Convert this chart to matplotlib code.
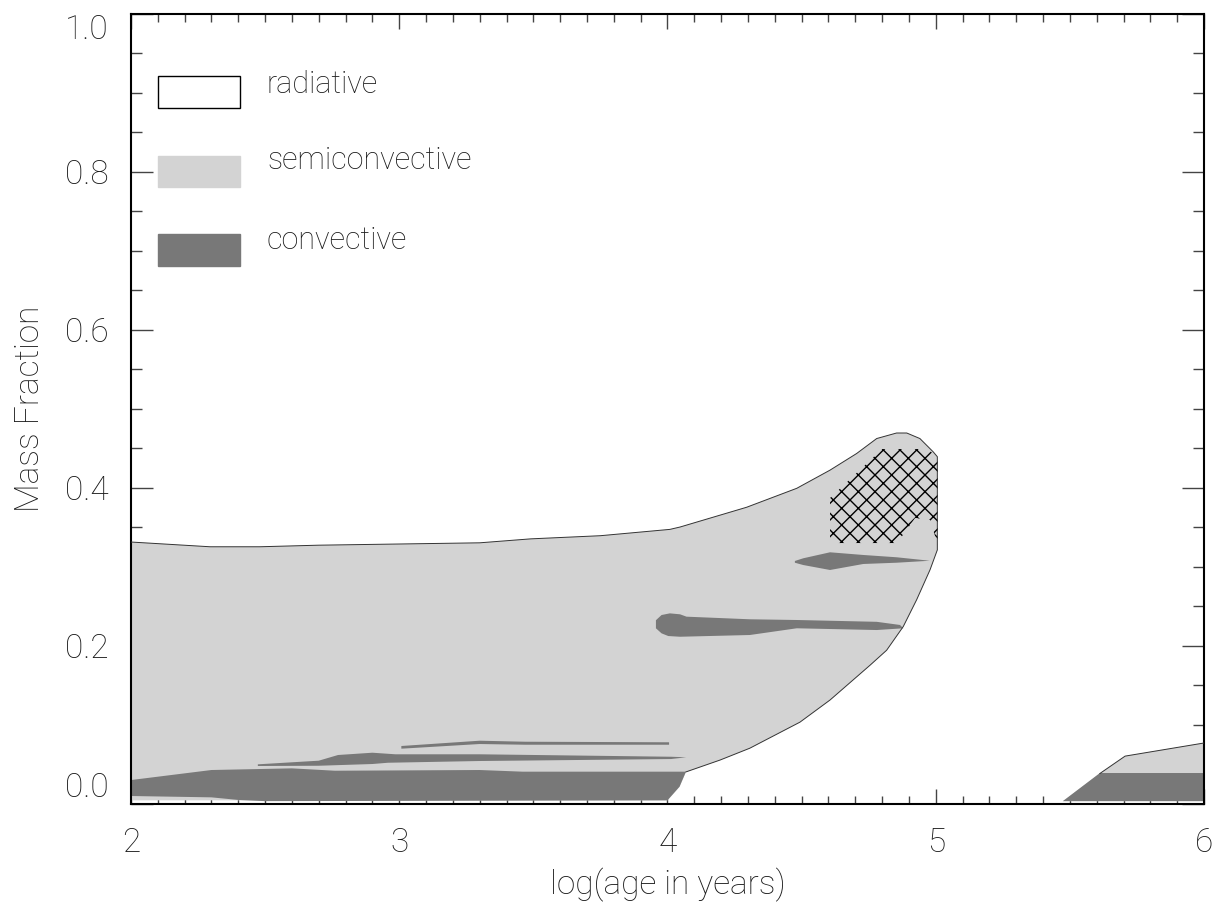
import numpy as np
import matplotlib.pyplot as plt
from matplotlib.patches import Rectangle, Polygon
from matplotlib.ticker import MultipleLocator

plt.rcParams['font.family'] = ['Roboto', 'DejaVu Sans']
plt.rcParams['font.weight'] = 'light'
plt.rcParams['axes.labelweight'] = 'light'
plt.rcParams['hatch.linewidth'] = 1.0

# semiconvective envelope (early phase)
semi_x = [2.0, 2.295, 2.48, 2.70, 3.30, 3.49, 3.75, 4.009, 4.047, 4.295, 4.482, 4.606,
          4.705, 4.78, 4.854, 4.892, 4.941, 4.991, 5.006, 5.006, 4.979, 4.929, 4.879,
          4.817, 4.755, 4.606, 4.494, 4.307, 4.196, 4.069, 4.045, 4.0, 2.0]
semi_y = [0.331, 0.325, 0.325, 0.327, 0.330, 0.335, 0.339, 0.347, 0.350, 0.375, 0.399, 0.422,
          0.443, 0.462, 0.469, 0.469, 0.462, 0.445, 0.439, 0.321, 0.296, 0.258, 0.224,
          0.194, 0.175, 0.131, 0.103, 0.070, 0.055, 0.040, 0.021, 0.004, 0.004]

# semiconvective (late phase)
semi2_x = [5.474, 5.612, 5.706, 6.0, 6.0]
semi2_y = [0.003, 0.038, 0.060, 0.0766, 0.003]

# convective zones
conv_x = [
    [2.0, 2.30, 2.60, 2.76, 3.30, 3.46, 4.069, 4.045, 4.0, 2.5, 2.4, 2.3, 2.0],
    [2.473, 2.70, 2.772, 2.90, 2.986, 3.30, 4.013, 4.07, 4.013, 3.30, 2.958, 2.90, 2.70, 2.473],
    [3.008, 3.30, 3.47, 4.006, 4.006, 3.47, 3.30, 3.008],
    [3.957, 3.978, 4.009, 4.047, 4.071, 4.307, 4.482, 4.78, 4.867, 4.879, 4.78, 4.482,
     4.307, 4.047, 4.003, 3.978, 3.957],
    [4.475, 4.506, 4.606, 4.73, 4.854, 4.978, 4.854, 4.73, 4.606, 4.506, 4.475],
    [5.474, 5.612, 6.0, 6.0],
]
conv_y = [
    [0.0297, 0.0424, 0.0445, 0.0415, 0.0424, 0.0403, 0.0403, 0.0213, 0.004, 0.003, 0.0045, 0.0078, 0.0095],
    [0.0496, 0.0542, 0.0614, 0.0643, 0.0623, 0.0623, 0.0592, 0.0585, 0.0563, 0.0538, 0.0516, 0.050, 0.0478, 0.0475],
    [0.0728, 0.0795, 0.0782, 0.0775, 0.0744, 0.0744, 0.0753, 0.0694],
    [0.232, 0.2386, 0.2407, 0.2395, 0.2365, 0.2332, 0.2323, 0.230, 0.226, 0.2218, 0.2196, 0.2218,
     0.2133, 0.2111, 0.212, 0.2154, 0.2218],
    [0.307, 0.3104, 0.318, 0.3146, 0.3117, 0.3073, 0.3048, 0.3032, 0.2956, 0.3019, 0.3048],
    [0.003, 0.0386, 0.0386, 0.003],
]

# hatched region
hatch_x = [4.606, 4.606, 4.80, 4.971, 5.008, 5.008, 4.979, 4.923, 4.856]
hatch_y = [0.3297, 0.3867, 0.4487, 0.4487, 0.4373, 0.3272, 0.3589, 0.3614, 0.3297]

xticks = [2, 3, 4, 5, 6]
yticks = [0.0, 0.2, 0.4, 0.6, 0.8, 1.0]
legend_labels = ['radiative', 'semiconvective', 'convective']

light = '#d3d3d3'
dark = '#787878'
txt = '#1a1a1a'

fig = plt.figure(figsize=(12.17, 9.07), dpi=100)
ax = fig.add_axes([0.1076, 0.1141, 0.8817, 0.871])
ax.set_axisbelow(True)

ax.fill(semi_x, semi_y, color=light, lw=0, zorder=1)
ax.plot(semi_x[:30], semi_y[:30], color='#333333', lw=0.7, zorder=3)
ax.fill(semi2_x, semi2_y, color=light, lw=0, zorder=1)
ax.plot(semi2_x[1:4], semi2_y[1:4], color='#333333', lw=0.7, zorder=3)
for cx, cy in zip(conv_x, conv_y):
    ax.fill(cx, cy, color=dark, lw=0, zorder=2)

hp = Polygon(np.column_stack([hatch_x, hatch_y]), closed=True, fill=False,
             hatch='xx', edgecolor='black', lw=0, zorder=2.5)
ax.add_patch(hp)

ax.set_xlim(2, 6)
ax.set_ylim(0, 1)
ax.set_xticks(xticks)
ax.set_xticklabels([str(v) for v in xticks])
ax.set_yticks(yticks)
ax.set_yticklabels(['%.1f' % v for v in yticks])
ax.xaxis.set_minor_locator(MultipleLocator(0.1))
ax.yaxis.set_minor_locator(MultipleLocator(0.05))

ax.tick_params(which='both', direction='in', top=True, right=True, color='#444444', width=1)
ax.tick_params(axis='x', which='major', length=11, pad=17, labelsize=24, labelcolor=txt)
ax.tick_params(axis='x', which='minor', length=6)
ax.tick_params(axis='y', which='major', length=16, pad=16, labelsize=24, labelcolor=txt)
ax.tick_params(axis='y', which='minor', length=8)
for s in ax.spines.values():
    s.set_linewidth(1.5)

ylabs = ax.get_yticklabels()
ylabs[0].set_va('bottom')
ylabs[-1].set_va('top')

ax.set_xlabel('log(age in years)', fontsize=24, color=txt, labelpad=6, fontweight='light')
ax.set_ylabel('Mass Fraction', fontsize=24, color=txt, labelpad=14, fontweight='light')

# legend
box_y = [0.881, 0.780, 0.681]
text_y = [0.899, 0.803, 0.702]
faces = ['white', light, dark]
for lab, by, ty, fc in zip(legend_labels, box_y, text_y, faces):
    ec = 'black' if fc == 'white' else fc
    ax.add_patch(Rectangle((0.0252, by), 0.0764, 0.040, transform=ax.transAxes,
                           facecolor=fc, edgecolor=ec, lw=1, zorder=4))
    ax.text(0.1267, ty, lab, transform=ax.transAxes, fontsize=22, color=txt,
            va='baseline', fontweight='light')

fig.savefig('out.png', dpi=100)
